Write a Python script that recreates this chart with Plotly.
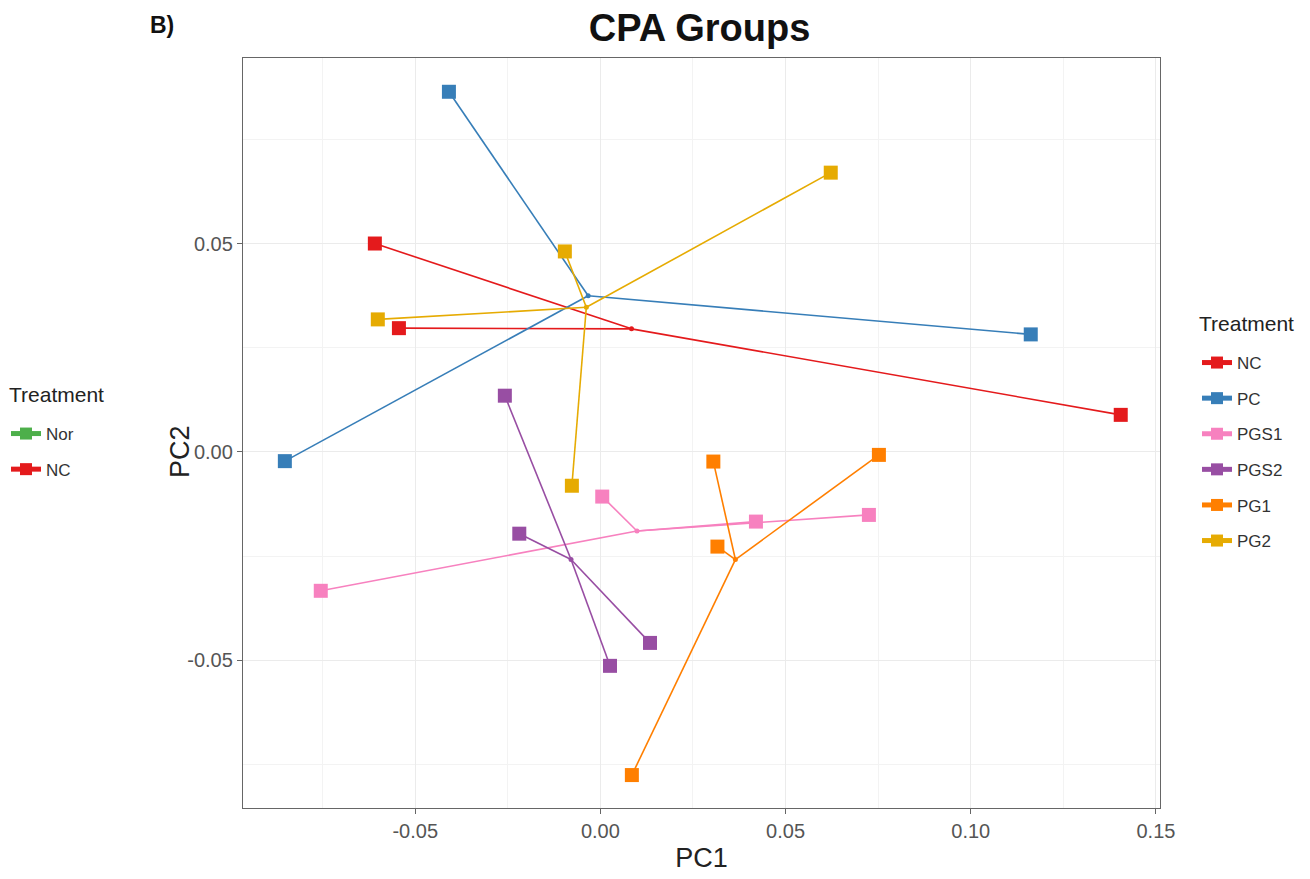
import numpy as np
import plotly.graph_objects as go

# Sample coordinates on the first two principal components, per treatment
groups = ["NC", "PC", "PGS1", "PGS2", "PG1", "PG2"]
colors = {"NC": "#E41A1C", "PC": "#377EB8", "PGS1": "#F781BF",
          "PGS2": "#984EA3", "PG1": "#FF7F00", "PG2": "#E6AB02"}

nc_pc1 = [-0.0609, -0.0544, 0.1405]
nc_pc2 = [0.0500, 0.0297, 0.0089]
pc_pc1 = [-0.0409, -0.0852, 0.1162]
pc_pc2 = [0.0864, -0.0022, 0.0282]
pgs1_pc1 = [-0.0755, 0.0005, 0.0420, 0.0725]
pgs1_pc2 = [-0.0333, -0.0107, -0.0167, -0.0151]
pgs2_pc1 = [-0.0258, -0.0219, 0.0134, 0.0026]
pgs2_pc2 = [0.0135, -0.0196, -0.0458, -0.0513]
pg1_pc1 = [0.0305, 0.0316, 0.0752, 0.0085]
pg1_pc2 = [-0.0023, -0.0227, -0.0007, -0.0775]
pg2_pc1 = [-0.0096, -0.0601, 0.0622, -0.0077]
pg2_pc2 = [0.0481, 0.0318, 0.0670, -0.0081]

data = {
    "NC": (nc_pc1, nc_pc2),
    "PC": (pc_pc1, pc_pc2),
    "PGS1": (pgs1_pc1, pgs1_pc2),
    "PGS2": (pgs2_pc1, pgs2_pc2),
    "PG1": (pg1_pc1, pg1_pc2),
    "PG2": (pg2_pc1, pg2_pc2),
}

x_tickvals = [-0.05, 0.0, 0.05, 0.10, 0.15]
x_ticktext = ["-0.05", "0.00", "0.05", "0.10", "0.15"]
y_tickvals = [-0.05, 0.0, 0.05]
y_ticktext = ["-0.05", "0.00", "0.05"]

FONT = "Liberation Sans, Arial, sans-serif"
W, H = 1310, 879

fig = go.Figure()

for g in groups:
    xs, ys = data[g]
    cx, cy = float(np.mean(xs)), float(np.mean(ys))
    c = colors[g]
    # spokes from the group centroid to every sample
    sx, sy = [], []
    for x, y in zip(xs, ys):
        sx += [cx, x, None]
        sy += [cy, y, None]
    fig.add_trace(go.Scatter(x=sx, y=sy, mode="lines",
                             line=dict(color=c, width=1.6),
                             showlegend=False, hoverinfo="skip"))
    # centroid dot
    fig.add_trace(go.Scatter(x=[cx], y=[cy], mode="markers",
                             marker=dict(color=c, size=5),
                             showlegend=False))
    # samples
    fig.add_trace(go.Scatter(x=xs, y=ys, mode="markers",
                             marker=dict(color=c, size=14, symbol="square"),
                             showlegend=False))
    # legend entry on the right
    fig.add_trace(go.Scatter(x=[None], y=[None], mode="lines+markers", name=g,
                             legendgroup="r_" + g,
                             line=dict(color=c, width=1.6),
                             marker=dict(color=c, size=11, symbol="square"),
                             legend="legend2"))

# left-hand legend
for name, c in [("Nor", "#4DAF4A"), ("NC", "#E41A1C")]:
    fig.add_trace(go.Scatter(x=[None], y=[None], mode="lines+markers", name=name,
                             legendgroup="l_" + name,
                             line=dict(color=c, width=1.6),
                             marker=dict(color=c, size=11, symbol="square"),
                             legend="legend"))

axis_common = dict(
    showline=True, mirror=True, linecolor="#666666", linewidth=1.3,
    ticks="outside", ticklen=5, tickcolor="#666666",
    tickfont=dict(family=FONT, size=20, color="#555555"),
    showgrid=True, gridcolor="#EBEBEB", gridwidth=1.2,
    zeroline=False,
)

fig.update_xaxes(
    range=[-0.0965, 0.1511], tickvals=x_tickvals, ticktext=x_ticktext,
    minor=dict(tickvals=[-0.075, -0.025, 0.025, 0.075, 0.125],
               showgrid=True, gridcolor="#F3F3F3", gridwidth=0.8, ticks=""),
    title=dict(text="PC1", font=dict(family=FONT, size=27, color="#222222"), standoff=6),
    **axis_common,
)
fig.update_yaxes(
    range=[-0.0854, 0.0945], tickvals=y_tickvals, ticktext=y_ticktext,
    minor=dict(tickvals=[-0.075, -0.025, 0.025, 0.075],
               showgrid=True, gridcolor="#F3F3F3", gridwidth=0.8, ticks=""),
    **axis_common,
)

legend_common = dict(
    font=dict(family=FONT, size=17, color="#333333"),
    bgcolor="rgba(0,0,0,0)", itemsizing="constant",
    traceorder="grouped", tracegroupgap=10.5,
    xref="container", yref="container", xanchor="left", yanchor="top",
)

title_font = dict(family=FONT, size=21, color="#222222")

fig.update_layout(
    width=W, height=H,
    margin=dict(l=243, r=150, t=58, b=69),
    paper_bgcolor="white", plot_bgcolor="white",
    title=dict(text="<b>CPA Groups</b>", x=0.534, xanchor="center",
               y=0.969, yanchor="middle",
               font=dict(family=FONT, size=38, color="#111111")),
    legend=dict(x=6 / W, y=1 - 416 / H, **legend_common),
    legend2=dict(x=1197 / W, y=1 - 345 / H, **legend_common),
    annotations=[
        dict(text="<b>B)</b>", xref="paper", yref="paper",
             x=(162 - 243) / 917, y=1 + (58 - 25) / 752,
             showarrow=False, xanchor="center", yanchor="middle",
             font=dict(family=FONT, size=23, color="#111111")),
        dict(text="PC2", xref="paper", yref="paper",
             x=(180 - 243) / 917, y=(810 - 453) / 752, textangle=-90,
             showarrow=False, xanchor="center", yanchor="middle",
             font=dict(family=FONT, size=27, color="#222222")),
        dict(text="Treatment", xref="paper", yref="paper",
             x=(1197 - 243) / 917, y=(810 - 324) / 752,
             showarrow=False, xanchor="left", yanchor="middle",
             font=title_font),
        dict(text="Treatment", xref="paper", yref="paper",
             x=(7 - 243) / 917, y=(810 - 395) / 752,
             showarrow=False, xanchor="left", yanchor="middle",
             font=title_font),
    ],
)

fig.write_html("out.html")
